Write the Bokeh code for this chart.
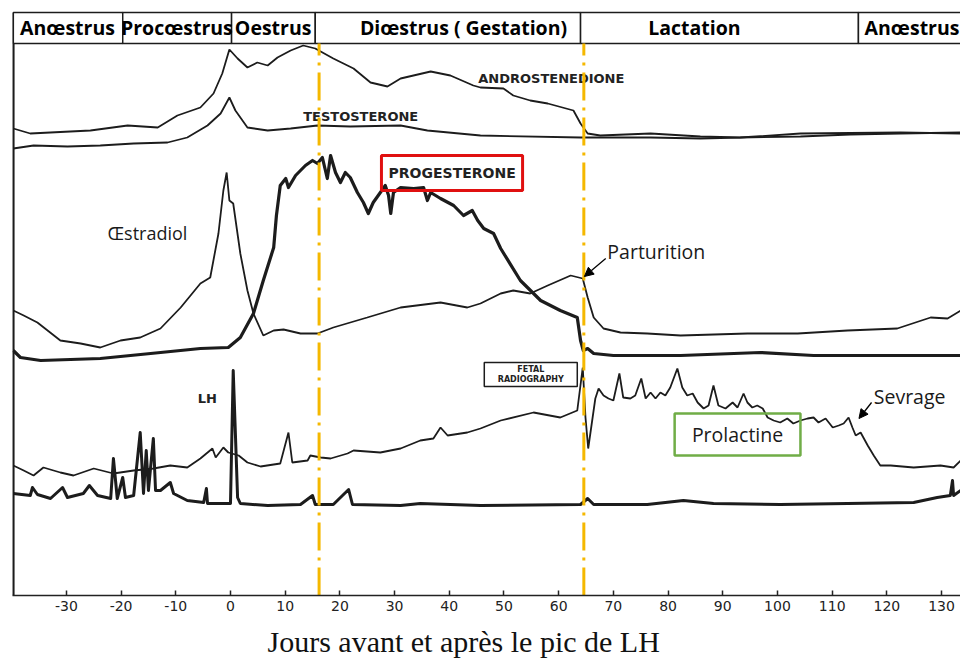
from bokeh.plotting import figure
from bokeh.models import Range1d, FixedTicker, Title, Arrow, NormalHead
from bokeh.core.properties import value
from bokeh.embed import file_html
from bokeh.resources import INLINE

# ---------------- data (days relative to LH peak, relative level units) -------------
tick_days = [-30, -20, -10, 0, 10, 20, 30, 40, 50, 60, 70, 80, 90, 100, 110, 120, 130]

phase_names = ["Anœstrus", "Procœstrus", "Oestrus", "Diœstrus ( Gestation)", "Lactation", "Anœstrus"]
phase_start = [-39.7, -19.7, 0.2, 15.5, 64.0, 114.8]
phase_end = [-19.7, 0.2, 15.5, 64.0, 114.8, 136.0]
phase_mid = [-29.8, -9.8, 7.8, 42.6, 84.8, 124.6]

event_days = [16.2, 64.6]   # orange dash-dot markers

andro_day = [-39.7, -36.6, -25.6, -18.8, -13.3, -9.7, -5.5, -3.1, -1.5, -0.2, 1.3, 3.1, 4.9, 6.8,
             8.6, 11.0, 13.3, 15.5, 18.8, 22.5, 25.6, 28.7, 31.1, 36.6, 40.2, 44.4, 45.7, 49.9,
             51.7, 54.8, 58.0, 62.7, 64.0, 65.3, 67.6, 76.8, 85.9, 93.2, 104.2, 113.3, 122.5, 133.5]
andro_lvl = [470, 465, 468, 473, 471, 483, 491, 505, 525, 549, 540, 531, 536, 533,
             541, 548, 553, 550, 540, 530, 516, 512, 520, 527, 523, 513, 511, 510,
             503, 498, 495, 488, 475, 465, 463, 465, 462, 461, 462, 464, 465, 466]

testo_day = [-39.7, -36.0, -29.8, -23.8, -17.7, -11.5, -7.9, -4.2, -1.8, -0.2, 0.9, 3.1, 6.8,
             11.0, 15.9, 21.9, 31.1, 36.0, 45.7, 64.0, 76.8, 85.9, 93.2, 104.2, 122.5, 133.5]
testo_lvl = [450, 453, 452, 453, 455, 456, 461, 473, 485, 501, 488, 471, 468,
             470, 473, 472, 473, 468, 463, 461, 461, 460, 461, 465, 466, 465]

prog_day = [-39.7, -38.4, -34.7, -23.8, -14.6, -5.5, -0.4, 1.8, 4.2, 6.0,
            7.9, 8.4, 9.1, 10.1, 10.6, 11.9, 13.7, 15.0, 15.9, 16.8,
            17.7, 18.3, 19.2, 20.1, 21.0, 21.9, 23.2, 24.3, 25.2, 26.1,
            27.4, 28.3, 28.9, 29.3, 29.8, 31.1, 33.5, 35.3, 36.0, 36.6,
            38.4, 40.8, 42.6, 44.2, 45.2, 46.3, 48.1, 49.4, 53.0, 56.7,
            60.3, 63.4, 64.0, 64.5, 65.3, 66.4, 70.0, 82.3, 96.9, 106.6,
            133.5]
prog_lvl = [248, 241, 238, 240, 245, 250, 251, 261, 285, 318,
            351, 383, 413, 420, 411, 423, 433, 438, 435, 441,
            420, 443, 426, 416, 426, 421, 406, 396, 385, 396,
            406, 413, 403, 385, 406, 411, 410, 411, 398, 406,
            400, 393, 383, 388, 378, 370, 365, 350, 318, 298,
            288, 281, 258, 248, 250, 245, 243, 243, 246, 243,
            243]

estr_day = [-39.7, -37.8, -35.3, -31.1, -27.4, -23.8, -20.1, -16.5, -12.8, -9.1, -5.5, -3.7,
            -2.2, -1.3, -0.7, -0.2, 0.5, 1.8, 3.1, 4.2, 6.0, 7.9, 9.7, 12.8, 15.9, 18.8, 25.0,
            31.1, 38.4, 43.3, 45.7, 49.4, 51.7, 54.8, 58.0, 62.2, 64.4, 65.3, 66.4, 68.2, 71.3,
            76.2, 82.3, 94.5, 103.7, 112.8, 121.9, 128.0, 131.1, 133.5]
estr_lvl = [288, 283, 276, 258, 255, 251, 258, 261, 270, 291, 315, 321,
            365, 408, 426, 398, 395, 345, 308, 285, 263, 268, 269, 265, 265, 271, 281,
            291, 296, 291, 295, 305, 308, 305, 313, 323, 320, 301, 281, 270, 266,
            265, 263, 265, 265, 268, 270, 281, 280, 288]

prl_day = [-39.7, -37.8, -36.0, -34.2, -31.1, -28.7, -25.0, -21.4, -17.7, -14.1,
           -11.0, -7.9, -5.5, -3.3, -2.7, -1.3, -0.4, 1.5, 3.1, 5.5,
           9.1, 10.6, 11.3, 14.1, 14.6, 16.5, 18.3, 21.4, 22.5, 27.4,
           31.1, 34.7, 37.1, 38.4, 39.7, 43.3, 45.7, 49.4, 55.4, 60.3,
           63.4, 64.4, 64.9, 65.4, 66.7, 67.3, 68.2, 69.1, 70.0, 71.1,
           71.8, 73.1, 74.0, 75.1, 75.9, 76.8, 77.7, 78.6, 79.5, 80.4,
           81.7, 82.6, 83.5, 84.5, 85.4, 86.5, 87.4, 88.3, 89.2, 90.5,
           91.8, 92.7, 93.8, 94.5, 95.4, 96.3, 97.3, 98.2, 99.3, 100.5,
           101.8, 102.9, 104.2, 105.5, 106.6, 107.5, 108.8, 110.1, 111.2, 112.1,
           113.0, 113.7, 114.3, 115.2, 116.5, 117.6, 118.8, 120.7, 124.9, 129.8,
           132.2, 133.5]
prl_lvl = [133, 128, 123, 131, 126, 123, 130, 125, 128, 130,
           133, 131, 140, 150, 141, 151, 146, 143, 136, 132,
           135, 166, 136, 138, 143, 141, 140, 145, 148, 146,
           150, 158, 160, 171, 163, 166, 170, 178, 186, 181,
           188, 231, 181, 150, 200, 210, 203, 200, 198, 225,
           201, 200, 203, 220, 200, 206, 200, 206, 203, 211,
           230, 211, 203, 205, 196, 190, 193, 213, 193, 190,
           196, 191, 205, 196, 191, 193, 190, 181, 178, 176,
           180, 175, 178, 180, 181, 176, 180, 171, 173, 175,
           181, 171, 163, 166, 153, 143, 133, 133, 131, 133,
           131, 138]

lh_day = [-39.7, -36.6, -36.2, -35.3, -32.9, -30.7, -29.8, -26.9, -25.8, -24.3,
          -21.9, -21.4, -20.7, -19.7, -19.2, -17.7, -16.5, -15.9, -15.4, -15.0,
          -14.1, -13.7, -12.8, -11.0, -10.4, -7.9, -4.9, -4.4, -4.2, -1.3,
          0.0, 0.5, 1.3, 1.8, 6.8, 12.8, 15.0, 15.5, 18.8, 21.6,
          22.3, 31.1, 34.7, 45.7, 64.0, 65.3, 66.4, 76.2, 82.8, 88.3,
          100.5, 112.8, 124.9, 129.2, 131.6, 132.0, 132.2, 133.5]
lh_lvl = [105, 103, 111, 104, 100, 111, 101, 105, 113, 103,
          100, 140, 100, 121, 101, 103, 166, 105, 148, 108,
          160, 108, 108, 116, 105, 98, 96, 110, 95, 95,
          95, 228, 101, 95, 93, 94, 103, 94, 94, 109,
          94, 93, 95, 93, 94, 100, 94, 94, 98, 95,
          94, 95, 96, 101, 103, 118, 103, 108]

# ---------------- figure ----------------
p = figure(width=960, height=668, x_range=Range1d(-39.85, 133.46), y_range=Range1d(3, 588),
           output_backend="svg", toolbar_location=None, y_axis_location=None,
           min_border_left=12, min_border_right=0, min_border_top=10, min_border_bottom=73)
p.xgrid.visible = False
p.ygrid.visible = False
p.outline_line_color = None
p.background_fill_color = "white"
p.border_fill_color = "white"

ax = p.xaxis[0]
ax.ticker = FixedTicker(ticks=tick_days)
ax.major_label_overrides = {t: str(t) for t in tick_days}
ax.major_tick_in = 5
ax.major_tick_out = 0
ax.minor_tick_line_color = None
ax.axis_line_width = 1.5
ax.axis_line_color = "#222222"
ax.major_tick_line_color = "#222222"
ax.major_tick_line_width = 1.5
ax.major_label_text_font = "DejaVu Sans"
ax.major_label_text_font_size = "14px"
ax.major_label_text_color = "#222222"
ax.major_label_standoff = 5

ink = "#1c1c1c"

# left frame line
p.segment(x0=[-39.7], y0=[3], x1=[-39.7], y1=[586], line_color=ink, line_width=2.5)

# phase bar
p.quad(left=phase_start, right=phase_end, bottom=555, top=586,
       fill_color="white", line_color=ink, line_width=1.5)
p.text(x=phase_mid, y=571, text=phase_names, text_font=value("Open Sans"),
       text_font_style="bold", text_font_size="19.5px", text_align="center",
       text_baseline="middle", text_color="black")

# hormone curves
p.line(andro_day, andro_lvl, line_color=ink, line_width=1.8)
p.line(testo_day, testo_lvl, line_color=ink, line_width=1.8)
p.line(estr_day, estr_lvl, line_color=ink, line_width=1.8)
p.line(prog_day, prog_lvl, line_color=ink, line_width=3.2, line_join="round")
p.line(prl_day, prl_lvl, line_color=ink, line_width=1.8)
p.line(lh_day, lh_lvl, line_color=ink, line_width=3.0, line_join="round")

# curve labels
caps = dict(text_font=value("DejaVu Sans"), text_font_style="bold", text_font_size="13px",
            text_baseline="middle", text_color="#222222")
p.text(x=[45.3], y=[520], text=["ANDROSTENEDIONE"], **caps)
p.text(x=[13.3], y=[482], text=["TESTOSTERONE"], **caps)
p.text(x=[-6.0], y=[200], text=["LH"], **caps)

p.quad(left=[27.6], right=[53.4], bottom=[408], top=[443], fill_color=None,
       line_color="#e01010", line_width=3)
p.text(x=[28.9], y=[426], text=["PROGESTERONE"], **dict(caps, text_font_size="14px"))

p.quad(left=[46.4], right=[63.4], bottom=[212], top=[236], fill_color="white",
       line_color=ink, line_width=1.5)
p.text(x=[54.9, 54.9], y=[229, 219], text=["FETAL", "RADIOGRAPHY"],
       text_font=value("DejaVu Sans"), text_font_style="bold", text_font_size="8px",
       text_align="center", text_baseline="middle", text_color="#222222")

p.quad(left=[81.2], right=[104.2], bottom=[143], top=[185], fill_color=None,
       line_color="#70ad47", line_width=2.5)

fr = dict(text_font=value("Open Sans"), text_font_size="19.5px", text_baseline="middle",
          text_color="#1a1a1a")
p.text(x=[-22.5], y=[366], text=["Œstradiol"], **dict(fr, text_font_size="18px"))
p.text(x=[68.9], y=[347], text=["Parturition"], **fr)
p.text(x=[92.7], y=[164], text=["Prolactine"], text_align="center", **fr)
p.text(x=[117.6], y=[202], text=["Sevrage"], **fr)

p.add_layout(Arrow(end=NormalHead(size=9, fill_color="black", line_color="black"),
                   x_start=68.6, y_start=340, x_end=64.7, y_end=322,
                   line_color="black", line_width=1.3))
p.add_layout(Arrow(end=NormalHead(size=9, fill_color="black", line_color="black"),
                   x_start=117.2, y_start=196, x_end=114.9, y_end=180,
                   line_color="black", line_width=1.3))

# orange event markers
p.segment(x0=event_days, y0=[3, 3], x1=event_days, y1=[555, 555],
          line_color="#f5b800", line_width=3, line_dash="28 7 3 7")

# x axis title
p.add_layout(Title(text="Jours avant et après le pic de LH", align="left", offset=255,
                   text_font="Liberation Serif", text_font_size="30px",
                   text_font_style="normal", text_color="#111111", standoff=18), "below")

open("out.html", "w").write(file_html(p, INLINE))
